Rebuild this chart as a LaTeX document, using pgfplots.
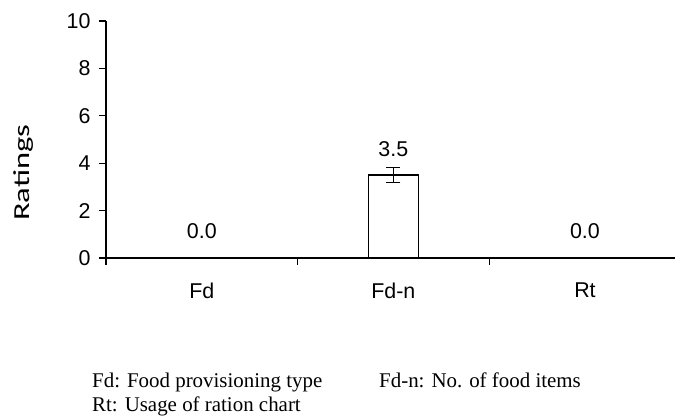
\documentclass[border=0pt]{standalone}
\usepackage{pgfplots}
\pgfplotsset{compat=1.18}
\usepackage{graphicx}
\usepackage{fontspec}
\setmainfont{Liberation Sans}
\newfontfamily\calibri{Carlito}
\newfontfamily\timesfont{Liberation Serif}

\begin{document}
\begin{tikzpicture}
  \path[use as bounding box] (0,0) rectangle (675bp,417bp);
  \begin{axis}[
    at={(106bp,159bp)},
    anchor=south west,
    scale only axis,
    width=569bp,
    height=237bp,
    xmin=0.5, xmax=3.47,
    ymin=0, ymax=10,
    axis lines=left,
    axis line style={-, line width=1.2pt},
    /pgf/number format/assume math mode=true,
    ytick={0,2,...,10},
    y tick label style={font=\fontsize{21.5}{24}\selectfont, xshift=-5bp},
    tick align=outside,
    major tick length=7bp,
    tick style={line width=1.2pt, black},
    xtick={0.5,1.5,2.5},
    xticklabels={},
    extra x ticks={1,2,3},
    extra x tick labels={Fd,Fd-n,Rt},
    extra x tick style={major tick length=0pt,
      tick label style={font=\fontsize{21.5}{24}\selectfont, yshift=-21bp}},
    ylabel={\calibri\scalebox{1.42}[1]{Ratings}},
    ylabel style={font=\fontsize{23}{26}\selectfont},
    every axis y label/.append style={at={(axis description cs:-0.145,0.36)}, anchor=center},
    clip=false,
  ]
    \addplot[ybar, bar width=50bp, draw=black, line width=1.2pt, fill=white,
      error bars/.cd, y dir=both, y explicit,
      error bar style={line width=1.2pt, black},
      error mark options={rotate=90, mark size=7bp, line width=1.2pt}]
      coordinates {(1,0) +- (0,0) (2,3.5) +- (0,0.31) (3,0) +- (0,0)};
    \addplot[only marks, mark=none,
      nodes near coords={\pgfmathprintnumber[fixed, fixed zerofill, precision=1]{\pgfplotspointmeta}},
      every node near coord/.append style={font=\fontsize{21.5}{24}\selectfont, anchor=base, yshift=19bp}]
      coordinates {(1,0) (2,3.5) (3,0)};
  \end{axis}
  \node[anchor=base west, font=\timesfont\fontsize{21}{24}\selectfont, inner sep=0] at (92bp,30bp) {Fd: Food provisioning type};
  \node[anchor=base west, font=\timesfont\fontsize{21}{24}\selectfont, inner sep=0] at (379bp,30bp) {Fd-n: No. of food items};
  \node[anchor=base west, font=\timesfont\fontsize{21}{24}\selectfont, inner sep=0] at (92bp,6bp) {Rt: Usage of ration chart};
\end{tikzpicture}
\end{document}
